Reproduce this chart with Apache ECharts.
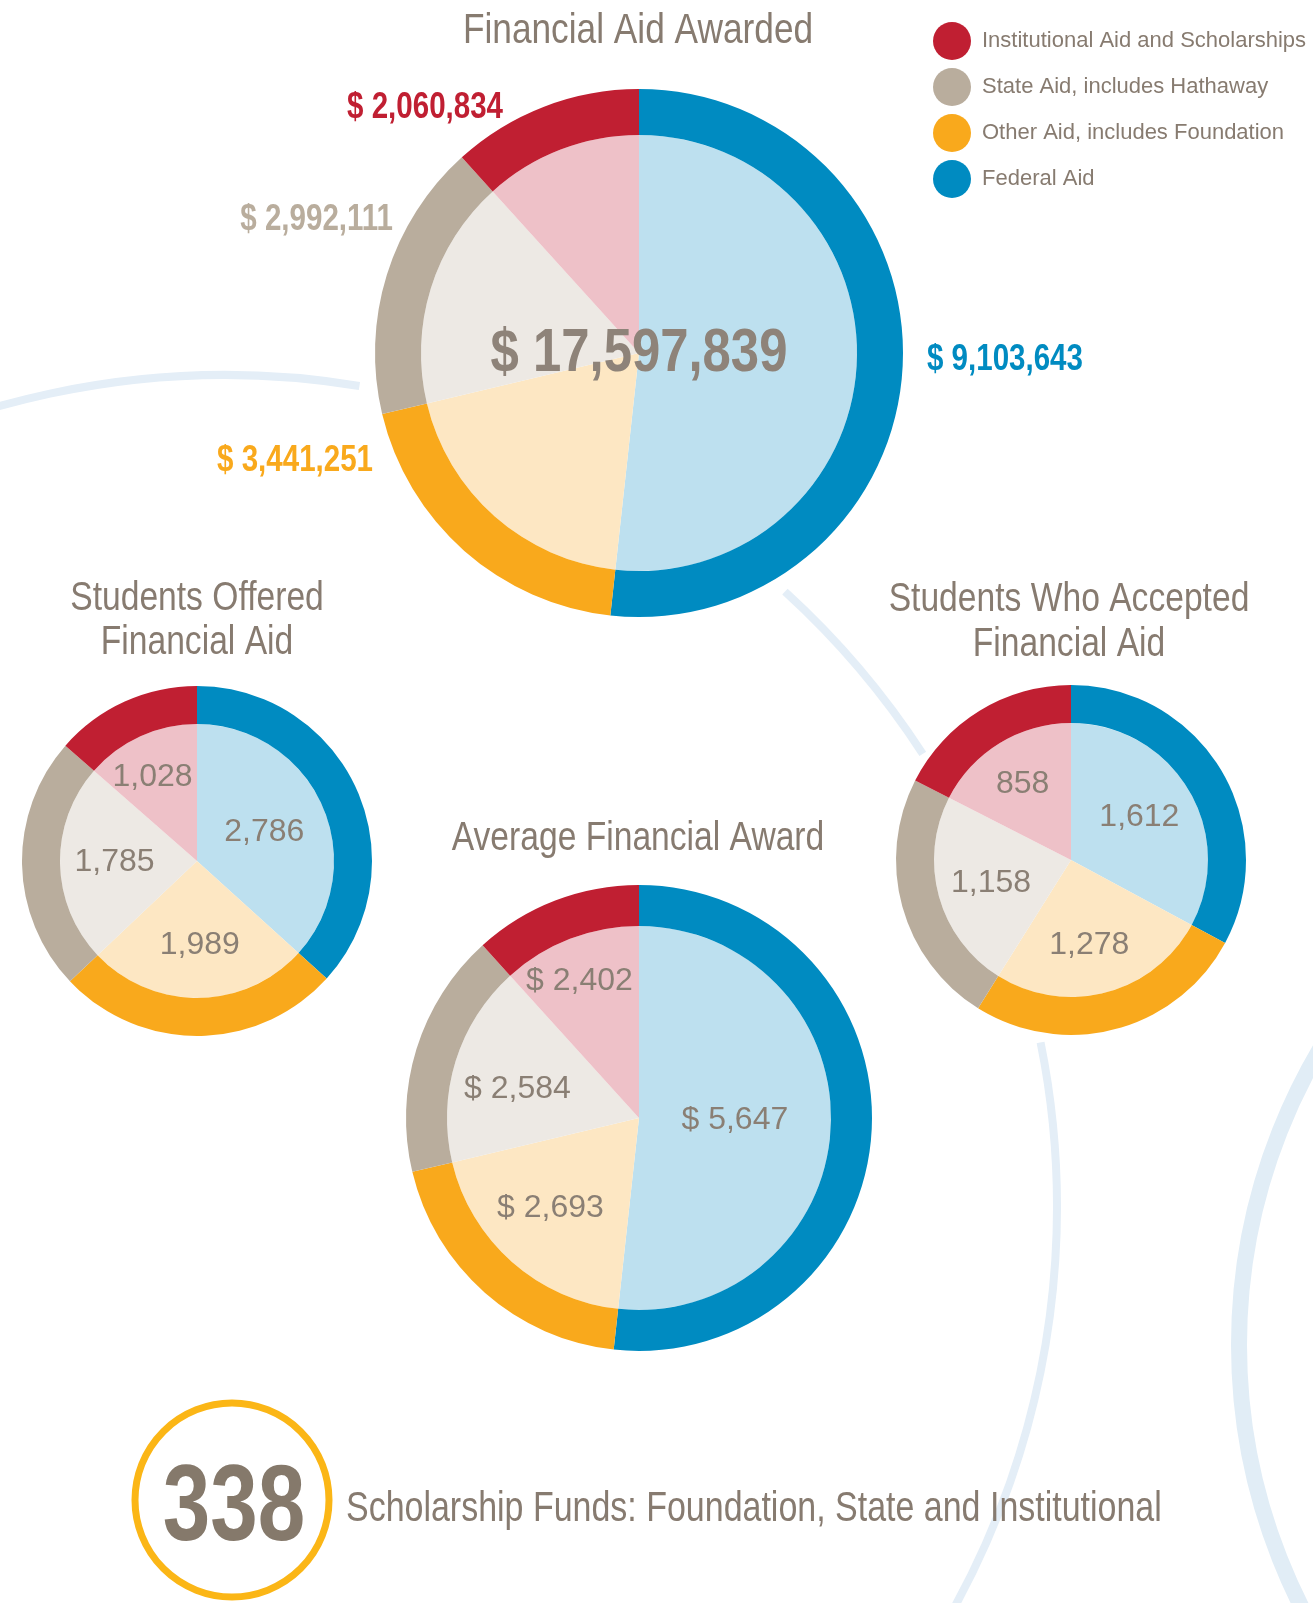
<!DOCTYPE html>
<html>
<head>
<meta charset="utf-8">
<title>Financial Aid</title>
<script src="https://cdn.jsdelivr.net/npm/echarts@6/dist/echarts.min.js"></script>
<style>
  html, body { margin: 0; padding: 0; background: #fff; }
  #chart { width: 1313px; height: 1603px; }
</style>
</head>
<body>
<div id="chart"></div>
<script>
// slices go clockwise from 12 o'clock in this order
const aidTypes = ['Federal Aid', 'Other Aid, includes Foundation', 'State Aid, includes Hathaway', 'Institutional Aid and Scholarships']
const aidAwarded = [9103643, 3441251, 2992111, 2060834]
const studentsOffered = [2786, 1989, 1785, 1028]
const studentsAccepted = [1612, 1278, 1158, 858]
const averageAward = [5647, 2693, 2584, 2402]
const scholarshipFunds = 338

const ringColors = ['#008bc1', '#f9a91c', '#b9ad9d', '#c01f32']
const fillColors = ['#bde0ef', '#fde7c3', '#ede9e4', '#eec1c8']
const FONT = '"Liberation Sans", Arial, sans-serif'
const NARROW = 0.82 // squeeze Liberation Sans into a condensed look
const TEXT = '#877b70'

const fmt = v => v.toLocaleString('en-US')

// label nudges away from the default inside spot, per slice
const offeredNudge = [[2, 0], [2, 13], [-11, 0], [-15, -19]]
const acceptedNudge = [[7, -6], [0, 16], [-11, 4], [-11, -15]]
const averageNudge = [[-3, -3], [-23, 16], [-27, 1], [-24, -44]]
// where the big chart's outside labels sit
const awardedLabelPos = [
  { x: 927, y: 360, align: 'left' },
  { x: 373, y: 461, align: 'right' },
  { x: 393, y: 220, align: 'right' },
  { x: 503, y: 108, align: 'right' }
]

function pieData(values, colors) {
  return values.map((v, i) => ({ name: aidTypes[i], value: v, itemStyle: { color: colors[i] } }))
}

function donut(center, rIn, rOut, values, innerLabel) {
  const base = {
    type: 'pie',
    center: center,
    startAngle: 90,
    clockwise: true,
    avoidLabelOverlap: false,
    silent: true,
    emphasis: { disabled: true },
    labelLine: { show: false }
  }
  return [
    Object.assign({}, base, {
      radius: [0, rIn],
      data: pieData(values, fillColors),
      label: innerLabel || { show: false },
      labelLayout: innerLabel ? innerLabel.layout : undefined
    }),
    Object.assign({}, base, {
      radius: [rIn, rOut],
      data: pieData(values, ringColors),
      label: { show: false }
    })
  ]
}

function insideLabel(textFn, nudge) {
  return {
    show: true,
    position: 'inside',
    formatter: p => textFn(p.dataIndex),
    color: '#8a7f74',
    fontFamily: FONT,
    fontSize: 32,
    layout: p => ({ dx: nudge[p.dataIndex][0], dy: nudge[p.dataIndex][1] })
  }
}

function label(x, y, text, opts) {
  return {
    type: 'text', z: 100, x: x, y: y, scaleX: opts.scaleX || NARROW, silent: true,
    style: Object.assign({
      text: text, align: 'center', verticalAlign: 'middle',
      fontFamily: FONT, fontSize: 42, fill: TEXT
    }, opts.style)
  }
}

const total = aidAwarded.reduce((a, b) => a + b, 0)

const arcStyle = { fill: 'none', stroke: '#e4eef7', lineWidth: 8 }
const deg = d => d * Math.PI / 180

const chart = echarts.init(document.getElementById('chart'))
chart.setOption({
  animation: false,
  backgroundColor: '#fff',
  legend: {
    orient: 'vertical',
    left: 933,
    top: 22,
    padding: 0,
    itemWidth: 50,
    itemHeight: 38,
    itemGap: 8,
    icon: 'circle',
    selectedMode: false,
    data: aidTypes.slice().reverse().map(n => ({ name: n, itemStyle: { color: ringColors[aidTypes.indexOf(n)] } })),
    textStyle: { fontFamily: FONT, fontSize: 22, color: TEXT }
  },
  graphic: [
    // faint background arcs
    { type: 'arc', z: 0, silent: true, shape: { cx: 225, cy: 1207, r: 832, startAngle: deg(190), endAngle: deg(279.3) }, style: arcStyle },
    { type: 'arc', z: 0, silent: true, shape: { cx: 225, cy: 1207, r: 832, startAngle: deg(312.3), endAngle: deg(327) }, style: arcStyle },
    { type: 'arc', z: 0, silent: true, shape: { cx: 225, cy: 1207, r: 832, startAngle: deg(348.6), endAngle: deg(410) }, style: arcStyle },
    { type: 'circle', z: 0, silent: true, shape: { cx: 1819, cy: 1345, r: 580 }, style: { fill: 'none', stroke: '#e1edf6', lineWidth: 16 } },

    // titles
    label(638, 31, 'Financial Aid Awarded', { style: { fontSize: 43 } }),
    label(197, 621, 'Students Offered\nFinancial Aid', { style: { fontSize: 41, lineHeight: 44 } }),
    label(1069, 622, 'Students Who Accepted\nFinancial Aid', { style: { fontSize: 41, lineHeight: 45 } }),
    label(638, 839, 'Average Financial Award', { style: { fontSize: 41 } }),

    // total in the middle of the big pie
    label(639, 354, '$ ' + fmt(total), { style: { fontWeight: 'bold', fontSize: 62, fill: '#8e8379' } }),

    // outside labels of the big pie
    ...aidAwarded.map((v, i) => label(awardedLabelPos[i].x, awardedLabelPos[i].y, '$ ' + fmt(v), {
      style: { align: awardedLabelPos[i].align, fontWeight: 'bold', fontSize: 36, fill: ringColors[i] }
    })),

    // scholarship funds badge
    { type: 'circle', z: 100, silent: true, shape: { cx: 232, cy: 1500, r: 97 }, style: { fill: 'none', stroke: '#fbb616', lineWidth: 7 } },
    label(234, 1510, String(scholarshipFunds), { scaleX: 0.79, style: { fontWeight: 'bold', fontSize: 108, fill: '#85796b' } }),
    label(346, 1509, 'Scholarship Funds: Foundation, State and Institutional', { scaleX: 0.79, style: { align: 'left', fontSize: 43 } })
  ],
  series: [].concat(
    donut([639, 353], 218, 264, aidAwarded),
    donut([197, 861], 137, 175, studentsOffered, insideLabel(i => fmt(studentsOffered[i]), offeredNudge)),
    donut([1071, 860], 137, 175, studentsAccepted, insideLabel(i => fmt(studentsAccepted[i]), acceptedNudge)),
    // slice sizes follow the dollars awarded, labels show the average award
    donut([639, 1118], 192, 233, aidAwarded, insideLabel(i => '$ ' + fmt(averageAward[i]), averageNudge))
  )
})
</script>
</body>
</html>
